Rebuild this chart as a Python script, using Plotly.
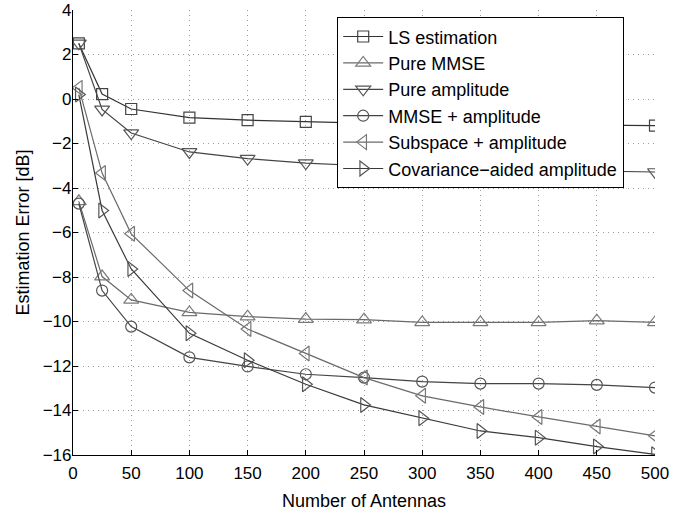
import plotly.graph_objects as go

antennas = [5, 25, 50, 100, 150, 200, 250, 300, 350, 400, 450, 500]

ls_estimation = [2.5, 0.22, -0.45, -0.84, -0.95, -1.03, -1.08, -1.1, -1.12, -1.14, -1.16, -1.2]
pure_mmse = [-4.6, -7.98, -9.03, -9.59, -9.78, -9.89, -9.92, -10.04, -10.04, -10.04, -9.96, -10.04]
pure_amplitude = [2.5, -0.47, -1.53, -2.38, -2.68, -2.88, -3.0, -3.08, -3.14, -3.2, -3.24, -3.28]
mmse_amplitude = [-4.7, -8.61, -10.23, -11.61, -12.02, -12.37, -12.52, -12.7, -12.79, -12.79, -12.85, -12.97]
subspace_amplitude = [0.5, -3.33, -6.06, -8.61, -10.34, -11.44, -12.52, -13.34, -13.84, -14.29, -14.72, -15.14]
covariance_amplitude = [0.2, -5.01, -7.64, -10.53, -11.74, -12.82, -13.75, -14.35, -14.92, -15.22, -15.62, -15.97]

series = [
    ("LS estimation", ls_estimation, "square-open", "#333333", "#444444", 11),
    ("Pure MMSE", pure_mmse, "triangle-up-open", "#6a6a6a", "#7a7a7a", 13),
    ("Pure amplitude", pure_amplitude, "triangle-down-open", "#444444", "#555555", 13),
    ("MMSE + amplitude", mmse_amplitude, "circle-open", "#444444", "#555555", 11),
    ("Subspace + amplitude", subspace_amplitude, "triangle-left-open", "#6a6a6a", "#777777", 13),
    ("Covariance\u2212aided amplitude", covariance_amplitude, "triangle-right-open", "#3a3a3a", "#555555", 13),
]

fig = go.Figure()
for name, vals, sym, lc, mc, ms in series:
    fig.add_trace(go.Scatter(
        x=antennas, y=vals, name=name, mode="lines+markers",
        line=dict(color=lc, width=1.2),
        marker=dict(symbol=sym, size=ms, color=mc, line=dict(width=1.2, color=mc)),
    ))

font_family = "Liberation Sans, Arial, sans-serif"

fig.update_layout(
    width=691, height=514,
    margin=dict(l=73, r=36, t=10, b=59, autoexpand=False),
    paper_bgcolor="white", plot_bgcolor="white",
    font=dict(family=font_family, size=17, color="black"),
    showlegend=True,
    legend=dict(
        x=0.4536, y=0.984, xanchor="left", yanchor="top",
        bgcolor="white", bordercolor="black", borderwidth=1.2,
        font=dict(size=18, color="black"),
        tracegroupgap=0, itemwidth=40,
    ),
    xaxis=dict(
        range=[0, 500], tickvals=[0, 50, 100, 150, 200, 250, 300, 350, 400, 450, 500],
        showline=True, linecolor="black", linewidth=1.2,
        ticks="inside", ticklen=5, tickcolor="black",
        showgrid=True, gridcolor="#9a9a9a", griddash="1px,4px", gridwidth=1,
        zeroline=False, mirror=False,
        ticklabelstandoff=2,
        title=dict(text="Number of Antennas", standoff=12, font=dict(size=18)),
        tickfont=dict(size=17),
    ),
    yaxis=dict(
        range=[-16, 4], tickvals=list(range(-16, 5, 2)),
        showline=True, linecolor="black", linewidth=1.2,
        ticks="inside", ticklen=5, tickcolor="black",
        showgrid=True, gridcolor="#9a9a9a", griddash="1px,4px", gridwidth=1,
        zeroline=False, mirror=False,
        ticklabelstandoff=-3,
        title=dict(text="Estimation Error [dB]", standoff=8, font=dict(size=18)),
        tickfont=dict(size=17),
    ),
)

fig.write_html("out.html")
